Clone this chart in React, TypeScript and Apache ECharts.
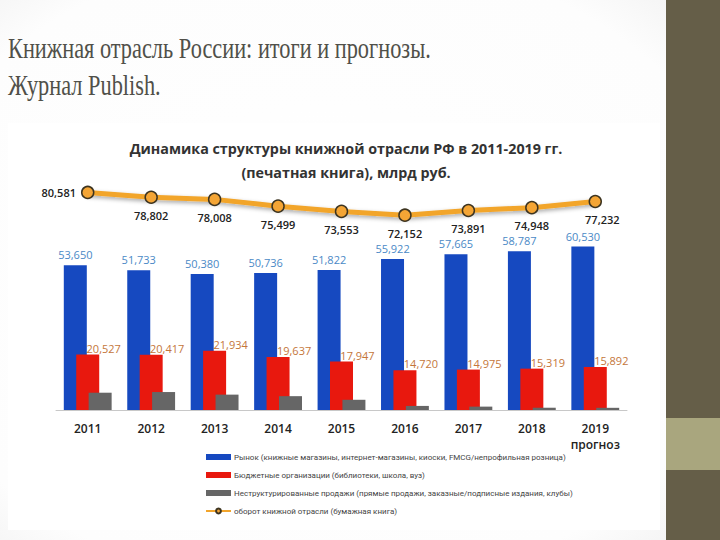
import React, { useEffect, useRef } from "react";
import * as echarts from "echarts";

const years = ["2011", "2012", "2013", "2014", "2015", "2016", "2017", "2018", "2019\nпрогноз"];
const market = [53.65, 51.733, 50.38, 50.736, 51.822, 55.922, 57.665, 58.787, 60.53];
const budget = [20.527, 20.417, 21.934, 19.637, 17.947, 14.72, 14.975, 15.319, 15.892];
const unstructured = [6.404, 6.652, 5.694, 5.126, 3.784, 1.51, 1.251, 0.842, 0.81];
const turnover = [80.581, 78.802, 78.008, 75.499, 73.553, 72.152, 73.891, 74.948, 77.232];

const seriesNames = [
  "Рынок (книжные магазины, интернет-магазины, киоски, FMCG/непрофильная розница)",
  "Бюджетные организации (библиотеки, школа, вуз)",
  "Неструктурированные продажи (прямые продажи, заказные/подписные издания, клубы)",
  "оборот книжной отрасли (бумажная книга)",
];

const slideTitle = ["Книжная отрасль России: итоги и прогнозы.", "Журнал Publish."];
const chartTitle = ["Динамика структуры книжной отрасли РФ в 2011-2019 гг.", "(печатная книга), млрд руб."];

const fmt = (v: number) => v.toFixed(3).replace(".", ",");

export default function App() {
  const ref = useRef<HTMLDivElement>(null);
  useEffect(() => {
    if (!ref.current) return;
    const chart = echarts.init(ref.current, null, { renderer: "svg" });
    const font = "Open Sans";
    const lineData = turnover.map((v, i) => {
      let label: any = { position: "bottom", distance: 6 };
      if (i === 0) label = { position: "left", distance: 5 };
      if (i === turnover.length - 1) label = { position: "bottom", distance: 6, offset: [7, 0] };
      return { value: v, label };
    });
    chart.setOption({
      animation: false,
      backgroundColor: "#ffffff",
      textStyle: { fontFamily: font },
      graphic: [
        {
          type: "rect",
          z: -10,
          shape: { x: 0, y: 0, width: 720, height: 540 },
          style: {
            fill: {
              type: "radial",
              x: 0.45,
              y: 0.5,
              r: 0.85,
              colorStops: [
                { offset: 0, color: "#ffffff" },
                { offset: 0.7, color: "#fdfdfd" },
                { offset: 1, color: "#e8e8e8" },
              ],
            },
          },
          silent: true,
        },
        {
          type: "rect",
          z: -9,
          shape: { x: 8, y: 123, width: 652, height: 407 },
          style: { fill: "#ffffff" },
          silent: true,
        },
        {
          type: "rect",
          z: -8,
          shape: { x: 666, y: 0, width: 54, height: 540 },
          style: { fill: "#655e48" },
          silent: true,
        },
        {
          type: "rect",
          z: -7,
          shape: { x: 666, y: 418, width: 54, height: 52 },
          style: { fill: "#a9a67e" },
          silent: true,
        },
        ...slideTitle.map((t, i) => ({
          type: "text",
          x: 8,
          y: 48 + i * 37,
          scaleX: 0.745,
          style: {
            text: t,
            fill: "#505049",
            font: "30px 'Liberation Serif'",
            textVerticalAlign: "middle",
          },
        })),
        ...chartTitle.map((t, i) => ({
          type: "text",
          x: 346,
          y: 148 + i * 24,
          style: {
            text: t,
            fill: "#333333",
            font: "bold 14.3px 'Open Sans'",
            textAlign: "center",
            textVerticalAlign: "middle",
          },
        })),
      ],
      legend: {
        orient: "vertical",
        left: 200,
        top: 447,
        itemWidth: 25,
        itemHeight: 6,
        itemGap: 8,
        textStyle: {
          fontSize: 8,
          color: "#444",
          fontFamily: "Roboto",
          padding: [0, 0, 0, -2],
          lineHeight: 10,
        },
        data: [
          { name: seriesNames[0], icon: "rect" },
          { name: seriesNames[1], icon: "rect" },
          { name: seriesNames[2], icon: "rect" },
          { name: seriesNames[3] },
        ],
      },
      grid: { left: 56, right: 93, top: 167, bottom: 130 },
      xAxis: {
        type: "category",
        data: years,
        axisLine: { lineStyle: { color: "#c8c8c8", width: 1 } },
        axisTick: { show: false },
        axisLabel: {
          interval: 0,
          color: "#222",
          fontSize: 12,
          fontWeight: 600,
          margin: 10,
          lineHeight: 16,
        },
      },
      yAxis: { type: "value", min: 0, max: 90, show: false, splitLine: { show: false } },
      series: [
        {
          name: seriesNames[0],
          type: "bar",
          data: market,
          barWidth: 23,
          barGap: "-46%",
          itemStyle: { color: "#1649c0" },
          label: {
            show: true,
            position: "top",
            distance: 5,
            color: "#4a89c6",
            fontSize: 11,
            formatter: (p: any) => fmt(p.value),
          },
        },
        {
          name: seriesNames[1],
          type: "bar",
          data: budget,
          barWidth: 23,
          barGap: "-46%",
          itemStyle: { color: "#e8180e" },
          label: {
            show: true,
            position: "top",
            distance: 1,
            offset: [16, 0],
            color: "#c4763a",
            fontSize: 11,
            formatter: (p: any) => fmt(p.value),
          },
        },
        {
          name: seriesNames[2],
          type: "bar",
          data: unstructured,
          barWidth: 23,
          barGap: "-46%",
          itemStyle: { color: "#666666" },
        },
        {
          name: seriesNames[3],
          type: "line",
          data: lineData,
          symbol: "circle",
          symbolSize: 12,
          z: 5,
          lineStyle: {
            color: "#f2a52c",
            width: 5,
            shadowColor: "rgba(0,0,0,0.35)",
            shadowBlur: 4,
            shadowOffsetY: 2,
          },
          itemStyle: {
            color: "#f4a535",
            borderColor: "#3d3420",
            borderWidth: 1.5,
          },
          label: {
            show: true,
            color: "#222",
            fontSize: 11,
            fontWeight: 600,
            formatter: (p: any) => fmt(p.value),
          },
        },
      ],
    });
    return () => chart.dispose();
  }, []);
  return (
    <div
      ref={ref}
      style={{ position: "fixed", left: 0, top: 0, width: 720, height: 540 }}
    />
  );
}
